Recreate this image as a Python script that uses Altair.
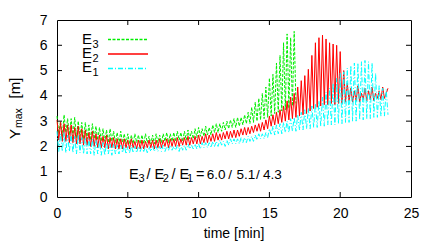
import altair as alt
import pandas as pd

DT = 0.125  # sampling step of the records, minutes
X_TICKS = [0, 5, 10, 15, 20, 25]
Y_TICKS = [0, 1, 2, 3, 4, 5, 6, 7]
SUBS = ['3', '2', '1']
COLORS = ['#00ee00', '#ff0000', '#00ffff']
RATIOS = ['6.0', '5.1', '4.3']

# E3 (green, dashed), values every DT minutes
E3 = [
    3.20, 2.50, 3.00, 2.40, 3.25, 2.55, 3.10, 2.45,
    3.10, 2.40, 3.15, 2.35, 3.00, 2.40, 2.95, 2.30,
    2.95, 2.30, 2.85, 2.25, 2.90, 2.30, 2.80, 2.25,
    2.75, 2.20, 2.70, 2.20, 2.65, 2.15, 2.70, 2.20,
    2.60, 2.15, 2.55, 2.10, 2.60, 2.15, 2.50, 2.10,
    2.50, 2.10, 2.45, 2.10, 2.50, 2.15, 2.45, 2.10,
    2.45, 2.10, 2.50, 2.15, 2.40, 2.10, 2.45, 2.10,
    2.50, 2.15, 2.45, 2.15, 2.50, 2.20, 2.55, 2.15,
    2.50, 2.20, 2.55, 2.20, 2.60, 2.25, 2.55, 2.20,
    2.60, 2.25, 2.65, 2.30, 2.60, 2.30, 2.70, 2.35,
    2.75, 2.40, 2.70, 2.40, 2.80, 2.45, 2.75, 2.45,
    2.85, 2.55, 2.90, 2.55, 2.90, 2.60, 2.95, 2.65,
    3.00, 2.70, 3.05, 2.75, 3.10, 2.75, 3.15, 2.80,
    3.15, 2.85, 3.25, 2.90, 3.35, 2.90, 3.55, 2.95,
    3.75, 3.00, 3.90, 3.05, 4.10, 3.10, 4.35, 3.15,
    4.70, 3.20, 4.85, 3.30, 5.30, 3.35, 5.60, 3.40,
    6.10, 3.45, 6.45, 3.50, 6.30, 3.60, 6.55, 3.70,
]

# E2 (red, solid)
E2 = [
    3.05, 2.25, 2.95, 2.20, 2.90, 2.20, 2.85, 2.15,
    2.85, 2.15, 2.75, 2.10, 2.80, 2.10, 2.70, 2.05,
    2.65, 2.05, 2.55, 2.00, 2.60, 2.00, 2.50, 1.95,
    2.45, 1.95, 2.40, 1.95, 2.45, 1.90, 2.35, 1.95,
    2.35, 1.90, 2.30, 1.90, 2.30, 1.90, 2.30, 1.95,
    2.25, 1.90, 2.30, 1.95, 2.20, 1.90, 2.25, 1.90,
    2.25, 1.90, 2.20, 1.95, 2.25, 1.95, 2.25, 1.90,
    2.25, 1.95, 2.30, 1.95, 2.25, 2.00, 2.30, 1.95,
    2.30, 2.00, 2.30, 2.00, 2.35, 2.00, 2.30, 2.05,
    2.35, 2.05, 2.40, 2.05, 2.35, 2.10, 2.40, 2.10,
    2.45, 2.10, 2.40, 2.15, 2.50, 2.15, 2.45, 2.20,
    2.50, 2.20, 2.55, 2.25, 2.50, 2.25, 2.55, 2.30,
    2.60, 2.30, 2.60, 2.35, 2.65, 2.35, 2.65, 2.40,
    2.70, 2.45, 2.75, 2.45, 2.75, 2.50, 2.80, 2.55,
    2.85, 2.60, 2.90, 2.60, 2.95, 2.65, 3.05, 2.70,
    3.20, 2.80, 3.25, 2.85, 3.35, 2.90, 3.45, 2.95,
    3.60, 3.00, 3.80, 3.05, 3.95, 3.10, 4.10, 3.15,
    4.35, 3.20, 4.60, 3.25, 4.80, 3.30, 5.05, 3.40,
    5.60, 3.50, 6.10, 3.55, 6.30, 3.60, 6.40, 3.65,
    6.25, 3.65, 6.10, 3.70, 6.05, 3.65, 6.00, 3.70,
    5.75, 3.70, 5.00, 3.75, 4.50, 3.80, 4.30, 3.75,
    4.20, 3.80, 4.40, 3.75, 4.10, 3.85, 4.30, 3.80,
    4.20, 3.85, 4.35, 3.80, 4.10, 3.90, 4.20, 3.85,
    4.35, 3.90, 4.10, 4.30,
]

# E1 (cyan, dash-dot)
E1 = [
    2.60, 1.80, 2.50, 1.80, 2.55, 1.75, 2.45, 1.80,
    2.50, 1.75, 2.40, 1.70, 2.45, 1.75, 2.35, 1.70,
    2.35, 1.70, 2.30, 1.70, 2.30, 1.65, 2.25, 1.70,
    2.20, 1.65, 2.15, 1.65, 2.15, 1.70, 2.10, 1.65,
    2.10, 1.70, 2.05, 1.70, 2.05, 1.75, 2.05, 1.70,
    2.00, 1.75, 2.05, 1.75, 2.00, 1.75, 2.00, 1.80,
    2.00, 1.80, 2.00, 1.75, 2.00, 1.80, 2.00, 1.80,
    2.00, 1.80, 2.00, 1.80, 2.05, 1.80, 2.00, 1.85,
    2.05, 1.85, 2.00, 1.85, 2.05, 1.80, 2.05, 1.85,
    2.05, 1.85, 2.10, 1.90, 2.05, 1.90, 2.10, 1.90,
    2.10, 1.90, 2.15, 1.95, 2.15, 1.95, 2.15, 1.95,
    2.20, 2.00, 2.20, 2.00, 2.25, 2.05, 2.20, 2.00,
    2.25, 2.05, 2.30, 2.10, 2.30, 2.10, 2.30, 2.10,
    2.35, 2.15, 2.35, 2.15, 2.40, 2.20, 2.40, 2.20,
    2.45, 2.25, 2.50, 2.30, 2.50, 2.30, 2.55, 2.35,
    2.70, 2.45, 2.80, 2.45, 2.85, 2.50, 2.90, 2.50,
    2.95, 2.55, 3.00, 2.55, 3.10, 2.60, 3.15, 2.60,
    3.25, 2.65, 3.35, 2.65, 3.45, 2.70, 3.50, 2.70,
    3.60, 2.75, 3.70, 2.75, 3.80, 2.80, 3.95, 2.80,
    4.15, 2.85, 4.30, 2.85, 4.50, 2.85, 4.70, 2.90,
    4.90, 2.90, 4.95, 2.95, 5.10, 2.95, 5.20, 3.00,
    5.30, 3.00, 5.30, 3.05, 5.35, 3.05, 5.40, 3.10,
    5.35, 3.10, 5.30, 3.15, 4.90, 3.15, 4.40, 3.20,
    4.30, 3.20, 4.25, 3.25,
]

W, H = 354, 177
FONT = 'Liberation Sans'


def series_df(vals):
    return pd.DataFrame({'t': [i * DT for i in range(len(vals))], 'y': vals})


x_enc = alt.X('t:Q', scale=alt.Scale(domain=[0, 25], nice=False, zero=False),
              axis=alt.Axis(values=X_TICKS, title=None, ticks=False, tickSize=0,
                            domain=False, grid=False, labelPadding=9,
                            labelFontSize=14, labelFont=FONT, labelColor='black',
                            labelFlush=False, labelOverlap=False))
y_enc = alt.Y('y:Q', scale=alt.Scale(domain=[0, 7], nice=False),
              axis=alt.Axis(values=Y_TICKS, title=None, ticks=False, tickSize=0,
                            domain=False, grid=False, labelPadding=10,
                            labelFontSize=14, labelFont=FONT, labelColor='black',
                            labelFlush=False, labelOverlap=False))

one = pd.DataFrame({'k': [0]})


def line(vals, color, dash):
    props = dict(color=color, strokeWidth=1)
    if dash:
        props['strokeDash'] = dash
    return alt.Chart(series_df(vals)).mark_line(**props).encode(x=x_enc, y=y_enc)


def label(txt, x, y, size, angle=0):
    return alt.Chart(one).mark_text(text=txt, font=FONT, fontSize=size, color='black',
                                    align='left', baseline='alphabetic',
                                    angle=angle).encode(x=alt.value(x), y=alt.value(y))


def legend_line(color, dash, y):
    props = dict(stroke=color, color=color, strokeWidth=1.5, opacity=1)
    if dash:
        props['strokeDash'] = dash
    return alt.Chart(one).mark_rule(**props).encode(
        x=alt.value(51), x2=alt.value(91), y=alt.value(y))


DASHES = [[3, 1.5], None, [5, 2, 1, 2]]

layers = []
# data lines: E3, E2, E1 (E1 on top)
for vals, c, d in zip([E3, E2, E1], COLORS, DASHES):
    layers.append(line(vals, c, d))

# inward ticks on all four sides
xt = pd.DataFrame({'t': X_TICKS[1:-1]})
yt = pd.DataFrame({'y': Y_TICKS[1:-1]})
layers.append(alt.Chart(xt).mark_rule(color='black', strokeWidth=1).encode(
    x=x_enc, y=alt.value(H), y2=alt.value(H - 5)))
layers.append(alt.Chart(xt).mark_rule(color='black', strokeWidth=1).encode(
    x=x_enc, y=alt.value(0), y2=alt.value(5)))
layers.append(alt.Chart(yt).mark_rule(color='black', strokeWidth=1).encode(
    y=y_enc, x=alt.value(0), x2=alt.value(5)))
layers.append(alt.Chart(yt).mark_rule(color='black', strokeWidth=1).encode(
    y=y_enc, x=alt.value(W - 5), x2=alt.value(W)))

# legend
for i, (sub, c, d) in enumerate(zip(SUBS, COLORS, DASHES)):
    base = 24 + 14 * i
    layers.append(label('E', 25, base, 15))
    layers.append(label(sub, 35.5, base + 3.5, 11))
    layers.append(legend_line(c, d, 19.5 + 14.5 * i))

# annotation E3 / E2 / E1 = 6.0 / 5.1 / 4.3
yb = 158.7
layers += [
    label('E', 72, yb, 14.5), label(SUBS[0], 81.5, yb + 3.3, 11),
    label('/ E', 89.5, yb, 14.5), label(SUBS[1], 105.8, yb + 3.3, 11),
    label('/ E', 114.5, yb, 14.5), label(SUBS[2], 130, yb + 3.3, 11),
    label('=', 139, yb, 14.5),
    label(RATIOS[0], 149.7, yb, 13.5), label('/', 171.2, yb, 13.5),
    label(RATIOS[1], 179.5, yb, 13.5), label('/', 199.0, yb, 13.5),
    label(RATIOS[2], 206.0, yb, 13.5),
]

# axis titles
layers.append(alt.Chart(one).mark_text(text='time [min]', font=FONT, fontSize=14, color='black',
                                       align='center', baseline='alphabetic').encode(
    x=alt.value(177), y=alt.value(217.5)))
layers.append(label('Y', -37.5, 119, 15, 270))
layers.append(label('max', -35, 108, 10.5, 270))
layers.append(label('[m]', -37.5, 78.5, 15, 270))

chart = alt.layer(*layers).properties(
    width=W, height=H,
    padding={'left': 49, 'top': 12, 'right': 17, 'bottom': 44},
    autosize=alt.AutoSizeParams(type='none'),
    background='white',
).configure_view(stroke='black', strokeWidth=1)

chart.save('out.html', embed_options={'renderer': 'svg', 'actions': False})
